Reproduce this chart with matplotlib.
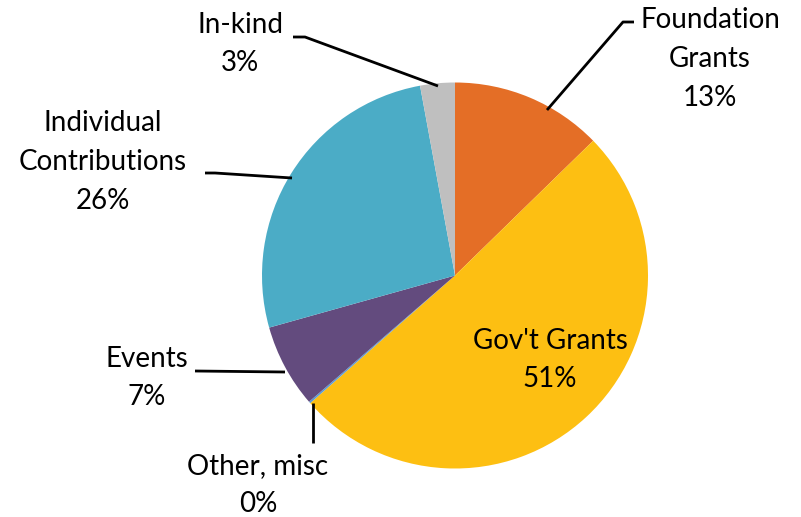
import matplotlib
matplotlib.use("Agg")
import matplotlib.pyplot as plt
import numpy as np

categories = ["Foundation\nGrants", "Gov't Grants", "Other, misc", "Events", "Individual\nContributions", "In-kind"]
values = [12.7, 50.8, 0.15, 7.0, 26.45, 2.9]
colors = ["#E46E26", "#FDBF12", "#5B9BD5", "#634B7E", "#4BACC6", "#BFBFBF"]

W, H = 801, 517
fig = plt.figure(figsize=(W / 100, H / 100), dpi=100)
ax = fig.add_axes([0, 0, 1, 1])
ax.set_xlim(0, W)
ax.set_ylim(0, H)
ax.axis("off")

cx, cy, r = 455, H - 275.5, 193
wedges, _ = ax.pie(values, colors=colors, startangle=90, counterclock=False,
                   center=(cx, cy), radius=r, wedgeprops=dict(linewidth=0))
ax.set_xlim(0, W)
ax.set_ylim(0, H)
ax.set_aspect("equal")

fs = 20
font = "Lato"
total = sum(values)
pcts = [f"{round(v / total * 100):.0f}%" for v in values]

# layout: text position (pixel coords, y from top), leader polyline (pixel coords)
layout = {
    0: dict(text=(710, 59), line=[(547, 110), (623, 22), (634, 22)]),
    1: dict(text=(550, 360), line=None),
    2: dict(text=(258, 485), line=[(313, 403), (313, 443)]),
    3: dict(text=(147, 378), line=[(195, 371), (285, 372)]),
    4: dict(text=(103, 162), line=[(205, 173), (215, 173), (292, 178)]),
    5: dict(text=(240, 44), line=[(293, 37), (305, 37), (438, 86)]),
}

for i, (cat, p) in enumerate(zip(categories, pcts)):
    L = layout[i]
    tx, ty = L["text"]
    ax.text(tx, H - ty, f"{cat}\n{p}", ha="center", va="center", fontsize=fs,
            family=font, color="#000000", linespacing=1.6)
    if L["line"]:
        xs = [pt[0] for pt in L["line"]]
        ys = [H - pt[1] for pt in L["line"]]
        ax.plot(xs, ys, color="black", lw=2, solid_capstyle="butt")

fig.savefig("out.png", dpi=100)
